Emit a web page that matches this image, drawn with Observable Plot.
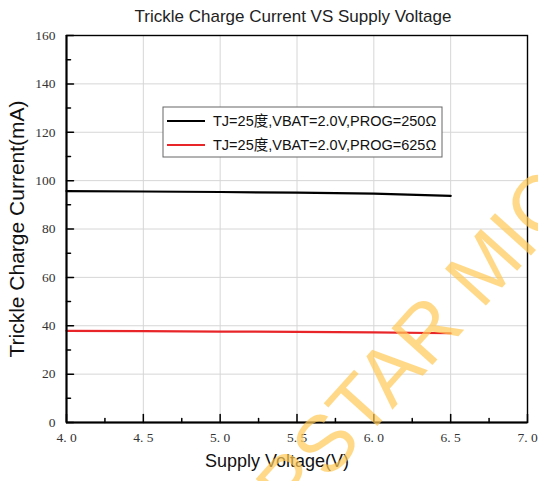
<!DOCTYPE html>
<html>
<head>
<meta charset="utf-8">
<script src="https://cdn.jsdelivr.net/npm/d3@7"></script>
<script src="https://cdn.jsdelivr.net/npm/@observablehq/plot@0.6"></script>
<style>
  html, body { margin: 0; padding: 0; background: #fff; }
</style>
</head>
<body>
<div id="chart"></div>
<script>
const voltage = [4.0, 4.5, 5.0, 5.5, 6.0, 6.5];
const current250 = [95.7, 95.5, 95.3, 95.0, 94.6, 93.7];
const current625 = [37.9, 37.8, 37.6, 37.5, 37.3, 36.9];
const seriesNames = ["TJ=25度,VBAT=2.0V,PROG=250Ω", "TJ=25度,VBAT=2.0V,PROG=625Ω"];
const seriesColors = ["#000000", "#e8262a"];
const xMajor = [4.0, 4.5, 5.0, 5.5, 6.0, 6.5, 7.0];
const xMinor = [4.25, 4.75, 5.25, 5.75, 6.25, 6.75];
const yMajor = [0, 20, 40, 60, 80, 100, 120, 140, 160];
const yMinor = [10, 30, 50, 70, 90, 110, 130, 150];
const titleText = "Trickle Charge Current VS Supply Voltage";
const xTitle = "Supply Voltage(V)";
const yTitle = "Trickle Charge Current(mA)";
const watermarkHead = "CHIPSTA";
const watermarkTail = "R MICRO";

const rows = [];
[current250, current625].forEach((arr, s) => {
  voltage.forEach((v, i) => rows.push({v, c: arr[i], s: seriesNames[s]}));
});

const serif = "'Liberation Serif', 'DejaVu Serif', serif";
const sans = "'Liberation Sans', Arial, 'Noto Sans CJK SC', sans-serif";
const tickShape = {draw(context, l) { context.moveTo(0, 0); context.lineTo(0, -l); }};

const plot = Plot.plot({
  width: 538,
  height: 481,
  marginTop: 35,
  marginBottom: 59,
  marginLeft: 66,
  marginRight: 11,
  style: {background: "#fff", fontFamily: sans},
  x: {domain: [4, 7]},
  y: {domain: [0, 160]},
  color: {domain: seriesNames, range: seriesColors},
  marks: [
    Plot.gridX(xMajor.slice(1, -1), {stroke: "#d6d6d6", strokeOpacity: 1, strokeWidth: 1}),
    Plot.gridY(yMajor.slice(1, -1), {stroke: "#d6d6d6", strokeOpacity: 1, strokeWidth: 1}),
    Plot.line(rows, {x: "v", y: "c", z: "s", stroke: "s", strokeWidth: 2.2}),
    Plot.frame({stroke: "#000", strokeWidth: 1.4}),
    Plot.ruleX([4], {stroke: "#000", strokeWidth: 2}),
    Plot.ruleY([0], {stroke: "#000", strokeWidth: 2}),
    Plot.vector(yMajor, {y: d => d, frameAnchor: "left", rotate: 90, length: 7, anchor: "start", shape: tickShape, stroke: "#000", strokeWidth: 1.5}),
    Plot.vector(yMinor, {y: d => d, frameAnchor: "left", rotate: 90, length: 4, anchor: "start", shape: tickShape, stroke: "#000", strokeWidth: 1.5}),
    Plot.vector(xMajor, {x: d => d, frameAnchor: "bottom", rotate: 0, length: 8, anchor: "start", shape: tickShape, stroke: "#000", strokeWidth: 1.5}),
    Plot.vector(xMinor, {x: d => d, frameAnchor: "bottom", rotate: 0, length: 4, anchor: "start", shape: tickShape, stroke: "#000", strokeWidth: 1.5}),
    Plot.axisX(xMajor, {tickSize: 0, tickPadding: 10, tickFormat: d => d.toFixed(1).replace(".", ". "), fontFamily: serif, fontSize: 13.5, fill: "#333", label: null}),
    Plot.axisY(yMajor, {tickSize: 0, tickPadding: 11, tickFormat: d => String(d), fontFamily: serif, fontSize: 13.5, fill: "#333", label: null}),
    Plot.text([titleText], {frameAnchor: "top", dx: -4, dy: -26, fontSize: 17, fill: "#222", fontFamily: sans}),
    Plot.text([xTitle], {frameAnchor: "bottom", dx: -20, dy: 44, fontSize: 18, fill: "#111", fontFamily: sans}),
    Plot.text([yTitle], {frameAnchor: "left", textAnchor: "middle", dx: -49, rotate: -90, fontSize: 21, fill: "#111", fontFamily: sans})
  ]
});

document.getElementById("chart").appendChild(plot);

// Legend box
const svg = d3.select(plot);
const lg = svg.append("g").attr("transform", "translate(163,107)");
lg.append("rect").attr("width", 279).attr("height", 50).attr("fill", "#fff").attr("stroke", "#666").attr("stroke-width", 1);
seriesNames.forEach((name, i) => {
  const yy = 14 + i * 24;
  lg.append("line").attr("x1", 4).attr("x2", 42).attr("y1", yy).attr("y2", yy)
    .attr("stroke", seriesColors[i]).attr("stroke-width", 2.2);
  lg.append("text").attr("x", 50).attr("y", yy).attr("dy", "0.35em")
    .attr("text-anchor", "start")
    .attr("font-family", sans).attr("font-size", 14.5).attr("fill", "#111").text(name);
});

// Watermark
const wm = svg.append("g").attr("transform", "translate(428,370) rotate(-48)")
  .attr("font-family", sans).attr("font-size", 80)
  .attr("fill", "#ffc955").attr("fill-opacity", 0.7);
wm.append("text").attr("text-anchor", "end").text(watermarkHead);
wm.append("text").attr("text-anchor", "start").text(watermarkTail);
</script>
</body>
</html>
